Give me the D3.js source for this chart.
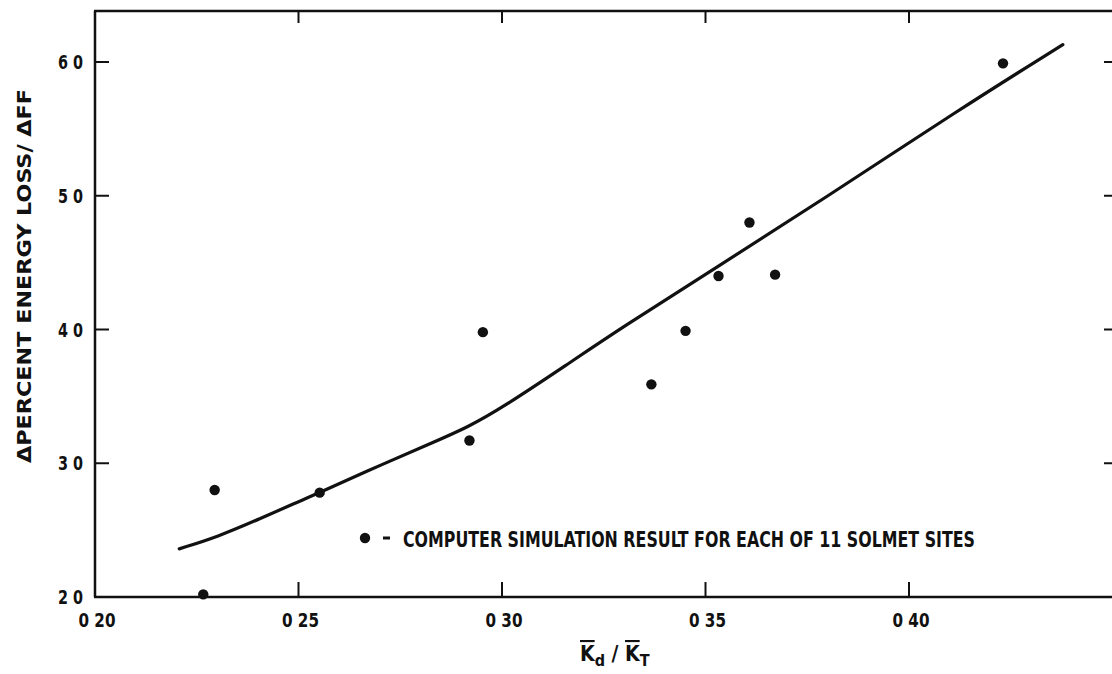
<!DOCTYPE html>
<html><head><meta charset="utf-8">
<script src="https://cdn.jsdelivr.net/npm/d3@7"></script>
<style>
html,body{margin:0;padding:0;background:#fff;}
svg{display:block;}
text{font-family:"DejaVu Sans Condensed","DejaVu Sans",sans-serif;font-stretch:condensed;fill:#111;}
</style></head>
<body>
<svg id="chart" width="1112" height="674"></svg>
<script>
// ---- data ----
const siteKdKt = [0.2266, 0.2294, 0.2552, 0.2920, 0.2953, 0.3367, 0.3451, 0.3532, 0.3608, 0.3671, 0.4231];
const siteLoss = [20.2, 28.0, 27.8, 31.7, 39.8, 35.9, 39.9, 44.0, 48.0, 44.1, 59.9];
const curveKdKt = [0.2207, 0.2302, 0.2409, 0.2490, 0.2552, 0.2711, 0.2834, 0.2916, 0.2998, 0.3161, 0.3292, 0.3525, 0.3787, 0.4126, 0.4378];
const curveLoss = [23.6, 24.5, 25.9, 27.0, 27.8, 30.0, 31.6, 32.7, 34.1, 37.4, 40.1, 44.6, 49.7, 56.5, 61.3];
const xTicks = [0.20, 0.25, 0.30, 0.35, 0.40];
const xTickLabels = ["0 20", "0 25", "0 30", "0 35", "0 40"];
const yTicks = [20, 30, 40, 50, 60];
const yTickLabels = ["2 0", "3 0", "4 0", "5 0", "6 0"];
const legendText = "COMPUTER SIMULATION RESULT FOR EACH OF 11 SOLMET SITES";
const yTitle = "\u0394PERCENT ENERGY LOSS/ \u0394FF";

(function () {
// ---- layout ----
const svg = d3.select("#chart");
const x = d3.scaleLinear().domain([0.20, 0.45]).range([95, 95 + 0.25 * 4070]);
const y = d3.scaleLinear().domain([20, 60]).range([597, 62]);
const pLeft = x(0.20), pBottom = y(20), pTop = 11, pRight = 1112;

// frame
const frame = svg.append("g").attr("stroke", "#111").attr("stroke-width", 2.5).attr("fill", "none");
frame.append("line").attr("x1", pLeft).attr("x2", pLeft).attr("y1", pTop).attr("y2", pBottom);
frame.append("line").attr("x1", pLeft - 1).attr("x2", pRight).attr("y1", pBottom).attr("y2", pBottom);
frame.append("line").attr("x1", pLeft - 1).attr("x2", pRight).attr("y1", pTop).attr("y2", pTop);

// ticks
const tk = svg.append("g").attr("stroke", "#111").attr("stroke-width", 2);
tk.selectAll(".bt").data(xTicks.slice(1)).join("line").attr("class","bt")
  .attr("x1", d => x(d)).attr("x2", d => x(d)).attr("y1", pBottom).attr("y2", pBottom - 15);
tk.selectAll(".tt").data(xTicks.slice(1)).join("line").attr("class","tt")
  .attr("x1", d => x(d)).attr("x2", d => x(d)).attr("y1", pTop).attr("y2", pTop + 12);
tk.selectAll(".lt").data(yTicks.slice(1)).join("line").attr("class","lt")
  .attr("x1", pLeft).attr("x2", pLeft + 14).attr("y1", d => y(d)).attr("y2", d => y(d));
tk.selectAll(".rt").data(yTicks.slice(1)).join("line").attr("class","rt")
  .attr("x1", pRight - 8).attr("x2", pRight).attr("y1", d => y(d)).attr("y2", d => y(d));

// tick labels
svg.append("g").selectAll("text").data(xTicks).join("text")
  .attr("x", d => x(d) + 2).attr("y", 627).attr("text-anchor", "middle")
  .attr("font-size", 19).attr("font-weight", "bold")
  .attr("textLength", 37).attr("lengthAdjust", "spacingAndGlyphs")
  .text((d, i) => xTickLabels[i]);
svg.append("g").selectAll("text").data(yTicks).join("text")
  .attr("x", 83).attr("y", d => y(d) + 7).attr("text-anchor", "end")
  .attr("font-size", 19).attr("font-weight", "bold")
  .attr("textLength", 25).attr("lengthAdjust", "spacingAndGlyphs")
  .text((d, i) => yTickLabels[i]);

// y title
svg.append("text")
  .attr("transform", "translate(31,276) rotate(-90)")
  .attr("text-anchor", "middle")
  .attr("font-size", 20).attr("font-weight", "bold")
  .attr("textLength", 374).attr("lengthAdjust", "spacingAndGlyphs")
  .text(yTitle);

// x title  K̄d / K̄T
const xt = svg.append("text").attr("x", 580).attr("y", 661)
  .attr("font-size", 21).attr("font-weight", "bold");
xt.append("tspan").style("text-decoration", "overline").text("K");
xt.append("tspan").attr("font-size", 16).attr("dy", 5).text("d");
xt.append("tspan").attr("dy", -5).text(" / ");
xt.append("tspan").style("text-decoration", "overline").text("K");
xt.append("tspan").attr("font-size", 16).attr("dy", 5).text("T");

// curve
const pts = curveKdKt.map((v, i) => [v, curveLoss[i]]);
svg.append("path").datum(pts)
  .attr("fill", "none").attr("stroke", "#111").attr("stroke-width", 3.2)
  .attr("stroke-linecap", "round")
  .attr("d", d3.line().x(d => x(d[0])).y(d => y(d[1])).curve(d3.curveBasis));

// dots
svg.append("g").selectAll("circle").data(siteKdKt).join("circle")
  .attr("cx", d => x(d)).attr("cy", (d, i) => y(siteLoss[i])).attr("r", 5.2).attr("fill", "#111");

// legend
const lg = svg.append("g");
lg.append("circle").attr("cx", 365).attr("cy", 538).attr("r", 5.2).attr("fill", "#111");
lg.append("line").attr("x1", 383).attr("x2", 390).attr("y1", 538).attr("y2", 538)
  .attr("stroke", "#111").attr("stroke-width", 3);
lg.append("text").attr("x", 403).attr("y", 546.5).attr("font-size", 21).attr("font-weight", "bold")
  .attr("textLength", 572).attr("lengthAdjust", "spacingAndGlyphs")
  .text(legendText);
})();
</script>
</body></html>
